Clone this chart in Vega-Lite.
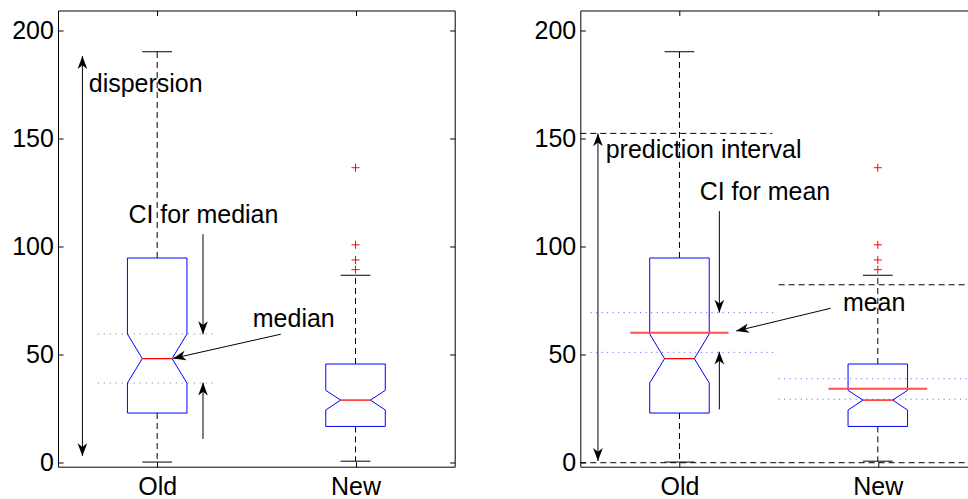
{
  "$schema": "https://vega.github.io/schema/vega-lite/v6.json",
  "padding": {"left": 11, "top": 9.5, "right": 0, "bottom": 0},
  "bounds": "flush",
  "spacing": 125.3,
  "config": {
    "view": {"stroke": null},
    "font": "Liberation Sans",
    "axis": {
      "domainColor": "black", "tickColor": "black", "labelColor": "black",
      "labelFont": "Liberation Sans", "labelFontSize": 25, "grid": false,
      "domainWidth": 1, "tickWidth": 1, "labelFlush": false, "labelOverlap": false
    }
  },
  "datasets": {
    "boxpoly": [
      {"g": "Old", "ord": 0, "x": 0.85, "y": 22.8},
      {"g": "Old", "ord": 1, "x": 1.15, "y": 22.8},
      {"g": "Old", "ord": 2, "x": 1.15, "y": 36.7},
      {"g": "Old", "ord": 3, "x": 1.075, "y": 48.0},
      {"g": "Old", "ord": 4, "x": 1.15, "y": 59.4},
      {"g": "Old", "ord": 5, "x": 1.15, "y": 94.6},
      {"g": "Old", "ord": 6, "x": 0.85, "y": 94.6},
      {"g": "Old", "ord": 7, "x": 0.85, "y": 59.4},
      {"g": "Old", "ord": 8, "x": 0.925, "y": 48.0},
      {"g": "Old", "ord": 9, "x": 0.85, "y": 36.7},
      {"g": "Old", "ord": 10, "x": 0.85, "y": 22.8},
      {"g": "New", "ord": 0, "x": 1.85, "y": 16.6},
      {"g": "New", "ord": 1, "x": 2.15, "y": 16.6},
      {"g": "New", "ord": 2, "x": 2.15, "y": 24.2},
      {"g": "New", "ord": 3, "x": 2.075, "y": 28.8},
      {"g": "New", "ord": 4, "x": 2.15, "y": 33.3},
      {"g": "New", "ord": 5, "x": 2.15, "y": 45.5},
      {"g": "New", "ord": 6, "x": 1.85, "y": 45.5},
      {"g": "New", "ord": 7, "x": 1.85, "y": 33.3},
      {"g": "New", "ord": 8, "x": 1.925, "y": 28.8},
      {"g": "New", "ord": 9, "x": 1.85, "y": 24.2},
      {"g": "New", "ord": 10, "x": 1.85, "y": 16.6}
    ],
    "medians": [
      {"g": "Old", "x": 0.925, "x2": 1.075, "y": 48.0},
      {"g": "New", "x": 1.925, "x2": 2.075, "y": 28.8}
    ],
    "whiskers": [
      {"g": "Old", "x": 1, "y": 94.6, "y2": 190.1},
      {"g": "Old", "x": 1, "y": 22.8, "y2": 0.1},
      {"g": "New", "x": 2, "y": 45.5, "y2": 86.6},
      {"g": "New", "x": 2, "y": 16.6, "y2": 0.5}
    ],
    "caps": [
      {"g": "Old", "x": 0.925, "x2": 1.075, "y": 190.1},
      {"g": "Old", "x": 0.925, "x2": 1.075, "y": 0.1},
      {"g": "New", "x": 1.925, "x2": 2.075, "y": 86.6},
      {"g": "New", "x": 1.925, "x2": 2.075, "y": 0.5}
    ],
    "outliers": [
      {"g": "New", "x": 2, "y": 136.4},
      {"g": "New", "x": 2, "y": 100.7},
      {"g": "New", "x": 2, "y": 93.7},
      {"g": "New", "x": 2, "y": 89.2}
    ],
    "leftDotted": [
      {"x": 0.70, "x2": 1.295, "y": 59.4},
      {"x": 0.70, "x2": 1.295, "y": 36.7}
    ],
    "leftShafts": [
      {"x": 0.623, "y": 2.9, "x2": 0.623, "y2": 188.1},
      {"x": 1.231, "y": 105.6, "x2": 1.231, "y2": 59.3},
      {"x": 1.231, "y": 10.8, "x2": 1.231, "y2": 36.9},
      {"x": 1.623, "y": 59.3, "x2": 1.08, "y2": 48.1}
    ],
    "leftHeads": [
      {"dir": "up", "x": 0.623, "y": 188.1},
      {"dir": "up", "x": 1.231, "y": 36.9},
      {"dir": "down", "x": 0.623, "y": 2.9},
      {"dir": "down", "x": 1.231, "y": 59.3},
      {"dir": "left", "x": 1.08, "y": 48.1}
    ],
    "leftText": [
      {"x": 0.655, "y": 171.6, "t": "dispersion"},
      {"x": 0.855, "y": 110.8, "t": "CI for median"},
      {"x": 1.482, "y": 62.8, "t": "median"}
    ],
    "rightDashed": [
      {"x": 0.5, "x2": 1.468, "y": 152.3},
      {"x": 0.5, "x2": 1.5, "y": -0.2},
      {"x": 1.5, "x2": 2.459, "y": 82.2},
      {"x": 1.5, "x2": 2.459, "y": -0.2}
    ],
    "rightDotted": [
      {"x": 0.552, "x2": 1.495, "y": 69.3},
      {"x": 0.552, "x2": 1.495, "y": 50.9},
      {"x": 1.5, "x2": 2.459, "y": 38.7},
      {"x": 1.5, "x2": 2.459, "y": 29.2}
    ],
    "means": [
      {"g": "Old", "x": 0.752, "x2": 1.248, "y": 60.0},
      {"g": "New", "x": 1.751, "x2": 2.249, "y": 34.1}
    ],
    "rightShafts": [
      {"x": 0.589, "y": 0.6, "x2": 0.589, "y2": 152.3},
      {"x": 1.201, "y": 116.3, "x2": 1.201, "y2": 69.3},
      {"x": 1.201, "y": 24.5, "x2": 1.201, "y2": 51.2},
      {"x": 1.762, "y": 71.3, "x2": 1.286, "y2": 60.8}
    ],
    "rightHeads": [
      {"dir": "up", "x": 0.589, "y": 152.3},
      {"dir": "up", "x": 1.201, "y": 51.2},
      {"dir": "down", "x": 0.589, "y": 0.6},
      {"dir": "down", "x": 1.201, "y": 69.3},
      {"dir": "left", "x": 1.286, "y": 60.8}
    ],
    "rightText": [
      {"x": 0.628, "y": 140.7, "t": "prediction interval"},
      {"x": 1.102, "y": 121.4, "t": "CI for mean"},
      {"x": 1.824, "y": 70.0, "t": "mean"}
    ]
  },
  "hconcat": [
    {
      "width": 396.7,
      "height": 456.2,
      "resolve": {"scale": {"x": "independent", "y": "independent"}},
      "layer": [
        {
          "encoding": {
            "x": {"field": "x", "type": "quantitative",
              "scale": {"domain": [0.5, 2.5], "nice": false, "zero": false},
              "axis": {"orient": "bottom", "values": [1, 2], "labelExpr": "datum.value == 1 ? 'Old' : 'New'", "title": null, "tickSize": -5, "labelPadding": 12.5}},
            "y": {"field": "y", "type": "quantitative",
              "scale": {"domain": [-2.04, 209.2], "nice": false, "zero": false},
              "axis": {"orient": "left", "values": [0, 50, 100, 150, 200], "title": null, "tickSize": -5, "labelPadding": 9.6}}
          },
          "layer": [
            {"data": {"name": "leftDotted"}, "mark": {"type": "rule", "color": "#777777", "strokeWidth": 1, "strokeDash": [1, 5]}, "encoding": {"x2": {"field": "x2"}}},
            {"data": {"name": "whiskers"}, "mark": {"type": "rule", "color": "black", "strokeWidth": 1, "strokeDash": [6, 4]}, "encoding": {"y2": {"field": "y2"}}},
            {"data": {"name": "caps"}, "mark": {"type": "rule", "color": "black", "strokeWidth": 1}, "encoding": {"x2": {"field": "x2"}}},
            {"data": {"name": "boxpoly"}, "mark": {"type": "line", "color": "#0000ff", "strokeWidth": 1}, "encoding": {"detail": {"field": "g"}, "order": {"field": "ord", "type": "quantitative"}}},
            {"data": {"name": "medians"}, "mark": {"type": "rule", "color": "#ff0000", "strokeWidth": 1.3}, "encoding": {"x2": {"field": "x2"}}},
            {"data": {"name": "outliers"}, "mark": {"type": "point", "shape": "M-1,0H1M0,-1V1", "size": 64, "filled": false, "stroke": "#ff0000", "strokeWidth": 1, "opacity": 1}},
            {"data": {"name": "leftShafts"}, "mark": {"type": "rule", "color": "black", "strokeWidth": 1}, "encoding": {"x2": {"field": "x2"}, "y2": {"field": "y2"}}},
            {"data": {"name": "leftHeads"}, "transform": [{"filter": "datum.dir == 'up'"}], "mark": {"type": "point", "shape": "M0,0L0.9,2.4L0,1.7L-0.9,2.4Z", "size": 115, "filled": true, "color": "black", "opacity": 1, "angle": 0}},
            {"data": {"name": "leftHeads"}, "transform": [{"filter": "datum.dir == 'down'"}], "mark": {"type": "point", "shape": "M0,0L0.9,2.4L0,1.7L-0.9,2.4Z", "size": 115, "filled": true, "color": "black", "opacity": 1, "angle": 180}},
            {"data": {"name": "leftHeads"}, "transform": [{"filter": "datum.dir == 'left'"}], "mark": {"type": "point", "shape": "M0,0L0.9,2.4L0,1.7L-0.9,2.4Z", "size": 115, "filled": true, "color": "black", "opacity": 1, "angle": 257}},
            {"data": {"name": "leftText"}, "mark": {"type": "text", "align": "left", "baseline": "alphabetic", "fontSize": 25, "font": "Liberation Sans", "color": "black"}, "encoding": {"text": {"field": "t"}}}
          ]
        },
        {
          "data": {"values": [{"x": 1, "y": 0}]},
          "mark": {"type": "point", "opacity": 0},
          "encoding": {
            "x": {"field": "x", "type": "quantitative",
              "scale": {"domain": [0.5, 2.5], "nice": false, "zero": false},
              "axis": {"orient": "top", "values": [1, 2], "labels": false, "title": null, "tickSize": -5}},
            "y": {"field": "y", "type": "quantitative",
              "scale": {"domain": [-2.04, 209.2], "nice": false, "zero": false},
              "axis": {"orient": "right", "values": [0, 50, 100, 150, 200], "labels": false, "title": null, "tickSize": -5}}
          }
        }
      ]
    },
    {
      "width": 388.5,
      "height": 456.2,
      "resolve": {"scale": {"x": "independent", "y": "independent"}},
      "layer": [
        {
          "encoding": {
            "x": {"field": "x", "type": "quantitative",
              "scale": {"domain": [0.5, 2.4587], "nice": false, "zero": false},
              "axis": {"orient": "bottom", "values": [1, 2], "labelExpr": "datum.value == 1 ? 'Old' : 'New'", "title": null, "tickSize": -5, "labelPadding": 12.5}},
            "y": {"field": "y", "type": "quantitative",
              "scale": {"domain": [-2.04, 209.2], "nice": false, "zero": false},
              "axis": {"orient": "left", "values": [0, 50, 100, 150, 200], "title": null, "tickSize": -5, "labelPadding": 9.6}}
          },
          "layer": [
            {"data": {"name": "rightDotted"}, "mark": {"type": "rule", "color": "#5555ff", "strokeWidth": 1, "strokeDash": [1, 4.5]}, "encoding": {"x2": {"field": "x2"}}},
            {"data": {"name": "rightDashed"}, "mark": {"type": "rule", "color": "black", "strokeWidth": 1, "strokeDash": [6, 4]}, "encoding": {"x2": {"field": "x2"}}},
            {"data": {"name": "whiskers"}, "mark": {"type": "rule", "color": "black", "strokeWidth": 1, "strokeDash": [6, 4]}, "encoding": {"y2": {"field": "y2"}}},
            {"data": {"name": "caps"}, "mark": {"type": "rule", "color": "black", "strokeWidth": 1}, "encoding": {"x2": {"field": "x2"}}},
            {"data": {"name": "boxpoly"}, "mark": {"type": "line", "color": "#0000ff", "strokeWidth": 1}, "encoding": {"detail": {"field": "g"}, "order": {"field": "ord", "type": "quantitative"}}},
            {"data": {"name": "medians"}, "mark": {"type": "rule", "color": "#ff0000", "strokeWidth": 1.3}, "encoding": {"x2": {"field": "x2"}}},
            {"data": {"name": "means"}, "mark": {"type": "rule", "color": "#ff5050", "strokeWidth": 2}, "encoding": {"x2": {"field": "x2"}}},
            {"data": {"name": "outliers"}, "mark": {"type": "point", "shape": "M-1,0H1M0,-1V1", "size": 64, "filled": false, "stroke": "#ff0000", "strokeWidth": 1, "opacity": 1}},
            {"data": {"name": "rightShafts"}, "mark": {"type": "rule", "color": "black", "strokeWidth": 1}, "encoding": {"x2": {"field": "x2"}, "y2": {"field": "y2"}}},
            {"data": {"name": "rightHeads"}, "transform": [{"filter": "datum.dir == 'up'"}], "mark": {"type": "point", "shape": "M0,0L0.9,2.4L0,1.7L-0.9,2.4Z", "size": 115, "filled": true, "color": "black", "opacity": 1, "angle": 0}},
            {"data": {"name": "rightHeads"}, "transform": [{"filter": "datum.dir == 'down'"}], "mark": {"type": "point", "shape": "M0,0L0.9,2.4L0,1.7L-0.9,2.4Z", "size": 115, "filled": true, "color": "black", "opacity": 1, "angle": 180}},
            {"data": {"name": "rightHeads"}, "transform": [{"filter": "datum.dir == 'left'"}], "mark": {"type": "point", "shape": "M0,0L0.9,2.4L0,1.7L-0.9,2.4Z", "size": 115, "filled": true, "color": "black", "opacity": 1, "angle": 257}},
            {"data": {"name": "rightText"}, "mark": {"type": "text", "align": "left", "baseline": "alphabetic", "fontSize": 25, "font": "Liberation Sans", "color": "black"}, "encoding": {"text": {"field": "t"}}}
          ]
        },
        {
          "data": {"values": [{"x": 1, "y": 0}]},
          "mark": {"type": "point", "opacity": 0},
          "encoding": {
            "x": {"field": "x", "type": "quantitative",
              "scale": {"domain": [0.5, 2.4587], "nice": false, "zero": false},
              "axis": {"orient": "top", "values": [1, 2], "labels": false, "title": null, "tickSize": -5}},
            "y": {"field": "y", "type": "quantitative",
              "scale": {"domain": [-2.04, 209.2], "nice": false, "zero": false},
              "axis": null}
          }
        }
      ]
    }
  ]
}
